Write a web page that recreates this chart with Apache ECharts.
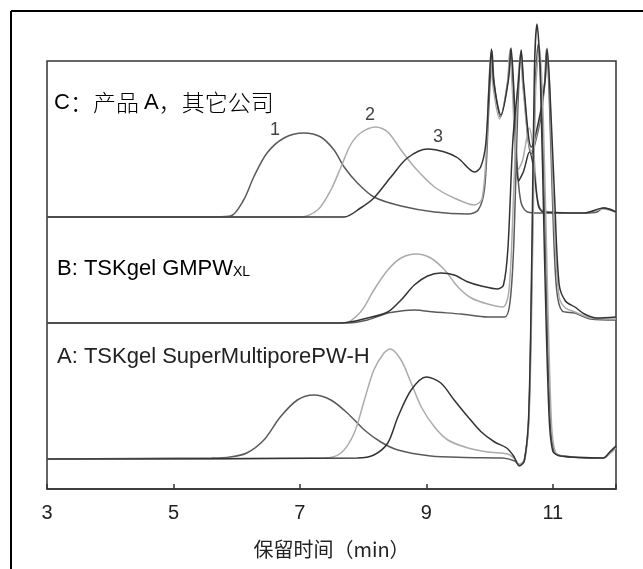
<!DOCTYPE html>
<html>
<head>
<meta charset="utf-8">
<script src="https://cdn.jsdelivr.net/npm/echarts@6/dist/echarts.min.js"></script>
<style>
    html, body { margin: 0; padding: 0; background: #fff; }
    #chart { width: 643px; height: 569px; }
</style>
</head>
<body>
<div id="chart"></div>
<script>
    // x = 保留时间 (min), y = 信号 (堆叠偏移后的相对高度)
    var xTicks = [3, 5, 7, 9, 11];

    // C: 产品 A, 其它公司
    var c1 = [[3, 272], [5.5, 272], [5.9, 273], [6.11, 289], [6.27, 312], [6.48, 336], [6.75, 351], [7.06, 356],
        [7.33, 352], [7.54, 339], [7.7, 322], [7.91, 306], [8.17, 292], [8.6, 283], [9.13, 277], [9.66, 275],
        [9.82, 279], [9.92, 300], [9.98, 370], [10.01, 410], [10.04, 438], [10.07, 408], [10.17, 372], [10.29, 408],
        [10.33, 440], [10.37, 405], [10.44, 320], [10.5, 286], [10.6, 277], [10.8, 276], [11.5, 276], [11.7, 277],
        [11.8, 281], [11.9, 280], [12, 277]];
    var c2 = [[3, 272], [7.01, 272], [7.28, 279], [7.49, 299], [7.65, 322], [7.8, 344], [7.96, 356], [8.2, 362],
        [8.39, 357], [8.6, 339], [8.81, 322], [9.13, 302], [9.44, 291], [9.76, 284], [9.88, 290], [9.95, 340],
        [9.99, 405], [10.02, 436], [10.05, 405], [10.16, 370], [10.28, 405], [10.32, 438], [10.36, 400],
        [10.44, 318], [10.52, 328], [10.63, 361], [10.7, 335], [10.76, 290], [10.85, 278], [11.5, 276], [11.8, 280],
        [12, 277]];
    var c3 = [[3, 272], [7.7, 272], [7.96, 281], [8.17, 291], [8.44, 312], [8.7, 331], [9.02, 340], [9.29, 337],
        [9.5, 331], [9.76, 317], [9.86, 322], [9.94, 345], [9.99, 400], [10.03, 440], [10.07, 405], [10.18, 374],
        [10.3, 410], [10.34, 441], [10.38, 405], [10.46, 308], [10.54, 318], [10.63, 337], [10.7, 320],
        [10.77, 284], [10.85, 277], [11.5, 276], [11.8, 281], [12, 277]];

    // B: TSKgel GMPWXL
    var b1 = [[3, 166], [7.75, 166], [8.07, 169], [8.39, 176], [8.6, 178], [8.81, 179], [9.13, 177], [9.55, 175],
        [9.97, 172], [10.24, 172], [10.32, 185], [10.38, 240], [10.45, 385], [10.5, 437], [10.54, 400],
        [10.66, 335], [10.8, 368], [10.87, 405], [10.9, 440], [10.94, 400], [11.0, 280], [11.06, 200], [11.15, 178],
        [11.35, 176], [11.6, 170], [12, 169]];
    var b2 = [[3, 166], [7.7, 166], [7.96, 177], [8.17, 199], [8.39, 219], [8.6, 231], [8.84, 235], [9.07, 231],
        [9.29, 219], [9.5, 202], [9.71, 191], [9.97, 185], [10.21, 182], [10.3, 195], [10.36, 260], [10.44, 395],
        [10.49, 436], [10.53, 400], [10.66, 338], [10.8, 372], [10.88, 408], [10.91, 441], [10.95, 400],
        [11.02, 270], [11.1, 192], [11.2, 181], [11.35, 177], [11.6, 171], [12, 170]];
    var b3 = [[3, 166], [7.65, 166], [8.07, 171], [8.39, 177], [8.6, 189], [8.81, 204], [9.02, 213], [9.23, 216],
        [9.44, 214], [9.66, 207], [9.87, 203], [10.13, 200], [10.22, 204], [10.29, 240], [10.37, 350],
        [10.46, 410], [10.5, 439], [10.54, 405], [10.66, 342], [10.8, 375], [10.88, 410], [10.91, 440],
        [10.95, 405], [11.03, 290], [11.1, 205], [11.2, 188], [11.35, 182], [11.5, 175], [11.7, 171], [12, 172]];

    // A: TSKgel SuperMultiporePW-H
    var a1 = [[3, 30], [5.6, 31], [5.9, 32], [6.16, 36], [6.43, 49], [6.69, 72], [6.96, 89], [7.22, 94], [7.49, 89],
        [7.75, 76], [8.02, 59], [8.28, 47], [8.55, 39], [9.07, 33], [9.6, 31.5], [10.2, 31], [10.4, 28], [10.47, 24],
        [10.55, 29], [10.62, 70], [10.67, 220], [10.72, 400], [10.77, 445], [10.83, 380], [10.9, 200], [10.96, 70],
        [11.02, 38], [11.15, 33], [11.8, 31], [11.9, 36], [12, 42]];
    var a2 = [[3, 30], [7.38, 31], [7.65, 36], [7.86, 56], [8.02, 89], [8.17, 119], [8.33, 136], [8.43, 140],
        [8.6, 129], [8.76, 106], [8.92, 82], [9.13, 62], [9.34, 49], [9.66, 41], [9.97, 37], [10.29, 35],
        [10.4, 30], [10.47, 25], [10.56, 30], [10.63, 80], [10.68, 230], [10.73, 400], [10.79, 442], [10.85, 370],
        [10.92, 190], [10.98, 65], [11.04, 37], [11.15, 33], [11.8, 31], [11.9, 35], [12, 41]];
    var a3 = [[3, 30], [7.91, 31], [8.17, 34], [8.39, 46], [8.55, 72], [8.76, 99], [9.0, 112], [9.23, 106],
        [9.44, 89], [9.66, 72], [9.87, 57], [10.08, 47], [10.27, 41], [10.38, 33], [10.47, 23], [10.55, 28],
        [10.62, 75], [10.67, 240], [10.71, 420], [10.75, 465], [10.8, 420], [10.87, 230], [10.94, 75], [11.0, 38],
        [11.12, 33], [11.8, 31], [11.9, 37], [12, 43]];

    var traces = [
        {name: 'C1', data: c1, color: '#5a5a5a'},
        {name: 'C2', data: c2, color: '#ababab'},
        {name: 'C3', data: c3, color: '#333333'},
        {name: 'B1', data: b1, color: '#5a5a5a'},
        {name: 'B2', data: b2, color: '#ababab'},
        {name: 'B3', data: b3, color: '#333333'},
        {name: 'A1', data: a1, color: '#5a5a5a'},
        {name: 'A2', data: a2, color: '#ababab'},
        {name: 'A3', data: a3, color: '#333333'}
    ];

    var chart = echarts.init(document.getElementById('chart'));

    var series = traces.map(function (t) {
        return {
            name: t.name,
            type: 'line',
            data: t.data,
            smooth: 0.3,
            showSymbol: false,
            clip: false,
            silent: true,
            lineStyle: {color: t.color, width: 1.5}
        };
    });

    var options = {
        animation: false,
        backgroundColor: '#fff',
        grid: {
            left: 47, right: 27, top: 61, bottom: 80,
            show: true, borderColor: '#333', borderWidth: 1.5
        },
        xAxis: {
            type: 'value',
            min: 3,
            max: 12,
            interval: 2,
            name: '保留时间（min）',
            nameLocation: 'middle',
            nameGap: 50,
            nameTextStyle: {fontFamily: 'Noto Sans CJK SC', fontSize: 20, color: '#222'},
            axisLine: {lineStyle: {color: '#333', width: 1.5}},
            axisTick: {inside: true, length: 5, lineStyle: {color: '#333', width: 1.5}},
            axisLabel: {
                fontFamily: 'Liberation Sans', fontSize: 20, color: '#222', margin: 14,
                formatter: function (v) { return xTicks.indexOf(v) >= 0 ? String(v) : ''; }
            },
            splitLine: {show: false}
        },
        yAxis: {
            type: 'value',
            min: 0,
            max: 428,
            show: false
        },
        graphic: [
            // 外框
            {type: 'line', shape: {x1: 11, y1: 11, x2: 643, y2: 11}, style: {stroke: '#000', lineWidth: 2}},
            {type: 'line', shape: {x1: 11, y1: 11, x2: 11, y2: 569}, style: {stroke: '#000', lineWidth: 2}},
            {
                type: 'text', left: 54, top: 91,
                style: {
                    text: '{l|C}{h|：产品 }{l|A}{h|，其它公司}',
                    rich: {
                        l: {fontFamily: 'Liberation Sans', fontSize: 22, color: '#222'},
                        h: {fontFamily: 'Noto Sans CJK SC', fontSize: 23, fontWeight: 300, color: '#222'}
                    }
                }
            },
            {type: 'text', left: 270, top: 121, style: {text: '1', font: '18px "Liberation Sans"', fill: '#444'}},
            {type: 'text', left: 365, top: 106, style: {text: '2', font: '18px "Liberation Sans"', fill: '#444'}},
            {type: 'text', left: 433, top: 128, style: {text: '3', font: '18px "Liberation Sans"', fill: '#444'}},
            {
                type: 'text', left: 57, top: 258,
                style: {
                    text: '{m|B: TSKgel GMPW}{s|XL}',
                    rich: {
                        m: {fontFamily: 'Liberation Sans', fontSize: 22, color: '#222', verticalAlign: 'bottom'},
                        s: {fontFamily: 'Liberation Sans', fontSize: 14, color: '#222', verticalAlign: 'bottom', padding: [0, 0, 1, 0]}
                    }
                }
            },
            {
                type: 'text', left: 57, top: 346,
                style: {text: 'A: TSKgel SuperMultiporePW-H', font: '22px "Liberation Sans"', fill: '#222'}
            }
        ],
        series: series
    };
    chart.setOption(options, true);
</script>
</body>
</html>
